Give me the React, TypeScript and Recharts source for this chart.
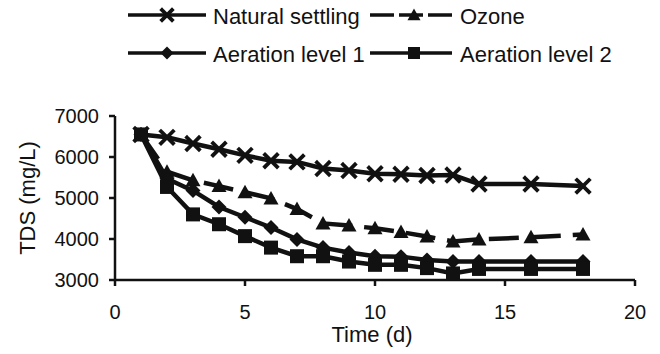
import { LineChart, Line, XAxis, YAxis, Legend } from "recharts";

const DAYS = [1, 2, 3, 4, 5, 6, 7, 8, 9, 10, 11, 12, 13, 14, 16, 18];
const NATURAL = [6550, 6480, 6330, 6190, 6040, 5910, 5880, 5720, 5670, 5590, 5580, 5550, 5560, 5340, 5340, 5290];
const OZONE = [6550, 5640, 5430, 5290, 5140, 4990, 4730, 4380, 4330, 4260, 4170, 4060, 3940, 3990, 4040, 4110];
const AERATION_1 = [6550, 5470, 5180, 4780, 4530, 4280, 3990, 3790, 3670, 3580, 3570, 3490, 3450, 3450, 3450, 3450];
const AERATION_2 = [6550, 5270, 4600, 4360, 4070, 3790, 3580, 3580, 3450, 3370, 3370, 3290, 3160, 3270, 3270, 3270];
const X_TICKS = [0, 5, 10, 15, 20];
const Y_TICKS = [3000, 4000, 5000, 6000, 7000];

const INK = "#111";
const FONT = '"Liberation Sans", Arial, sans-serif';

const data = DAYS.map((day, i) => ({
    day,
    natural: NATURAL[i],
    ozone: OZONE[i],
    aer1: AERATION_1[i],
    aer2: AERATION_2[i],
}));

type Shape = "cross" | "triangle" | "diamond" | "square";

// series config; legend row/col say where the entry sits in the 2x2 legend
const SERIES: { key: string; name: string; shape: Shape; dash?: string; row: number; col: number }[] = [
    { key: "natural", name: "Natural settling", shape: "cross", row: 0, col: 0 },
    { key: "ozone", name: "Ozone", shape: "triangle", dash: "30 12", row: 0, col: 1 },
    { key: "aer1", name: "Aeration level 1", shape: "diamond", row: 1, col: 0 },
    { key: "aer2", name: "Aeration level 2", shape: "square", row: 1, col: 1 },
];

function Marker({ cx, cy, shape, s = 7.5 }: { cx: number; cy: number; shape: Shape; s?: number }) {
    if (cx == null || cy == null) return null;
    switch (shape) {
        case "cross":
            return (
                <g stroke={INK} strokeWidth={3.8} strokeLinecap="square">
                    <line x1={cx - s + 1.5} y1={cy - s + 1.5} x2={cx + s - 1.5} y2={cy + s - 1.5} />
                    <line x1={cx - s + 1.5} y1={cy + s - 1.5} x2={cx + s - 1.5} y2={cy - s + 1.5} />
                </g>
            );
        case "triangle":
            return <polygon points={`${cx},${cy - s} ${cx + s},${cy + s * 0.8} ${cx - s},${cy + s * 0.8}`} fill={INK} />;
        case "diamond":
            return <polygon points={`${cx},${cy - s} ${cx + s},${cy} ${cx},${cy + s} ${cx - s},${cy}`} fill={INK} />;
        default:
            return <rect x={cx - s + 0.5} y={cy - s + 0.5} width={2 * s - 1} height={2 * s - 1} fill={INK} />;
    }
}

const makeDot = (shape: Shape) => (p: any) => <Marker key={`${shape}-${p.index}`} cx={p.cx} cy={p.cy} shape={shape} />;

// legend layout (pixels in the chart box)
const LEG_ROW_Y = [15, 53];
const LEG_LINE = [[128, 206], [370, 452]];
const LEG_MARK = [167, 414];
const LEG_TEXT = [213, 460];

function renderLegend() {
    return (
        <svg width={660} height={75} style={{ position: "absolute", top: 0, left: 0, overflow: "visible" }}>
            {SERIES.map((s) => {
                const y = LEG_ROW_Y[s.row];
                const [x1, x2] = LEG_LINE[s.col];
                return (
                    <g key={s.key}>
                        <line x1={x1} y1={y} x2={x2} y2={y} stroke={INK} strokeWidth={3.5}
                              strokeDasharray={s.dash ? "24 5" : undefined} />
                        <Marker cx={LEG_MARK[s.col]} cy={y} shape={s.shape} s={6.5} />
                        <text x={LEG_TEXT[s.col]} y={y + 9} fontSize={22} fill={INK} fontFamily={FONT}>{s.name}</text>
                    </g>
                );
            })}
        </svg>
    );
}

export default function App() {
    return (
        <div style={{ position: "absolute", top: 0, left: 0, width: 660, height: 354, background: "#fff", fontFamily: FONT }}>
            <LineChart width={660} height={354} data={data} margin={{ top: 116, right: 25, bottom: 0, left: 0 }}>
                <XAxis
                    dataKey="day"
                    type="number"
                    domain={[0, 20]}
                    ticks={X_TICKS}
                    interval={0}
                    height={74}
                    tickSize={6}
                    tickMargin={19}
                    stroke={INK}
                    strokeWidth={2.5}
                    tick={{ fill: INK, fontSize: 20, fontFamily: FONT }}
                    label={{ value: "Time (d)", position: "insideBottom", offset: 12, dx: -3, fill: INK, fontSize: 22, fontFamily: FONT }}
                />
                <YAxis
                    type="number"
                    domain={[3000, 7000]}
                    ticks={Y_TICKS}
                    interval={0}
                    width={115}
                    tickSize={6}
                    tickMargin={10}
                    stroke={INK}
                    strokeWidth={2.5}
                    tick={{ fill: INK, fontSize: 20, fontFamily: FONT }}
                    label={{ value: "TDS (mg/L)", angle: -90, position: "center", dx: -30, fill: INK, fontSize: 22, fontFamily: FONT }}
                />
                <Legend content={renderLegend} wrapperStyle={{ top: 0, left: 0, width: 660, height: 0 }} />
                {SERIES.map((s) => (
                    <Line
                        key={s.key}
                        dataKey={s.key}
                        name={s.name}
                        type="linear"
                        stroke={INK}
                        strokeWidth={4.5}
                        strokeDasharray={s.dash}
                        dot={makeDot(s.shape)}
                        activeDot={false}
                        isAnimationActive={false}
                    />
                ))}
            </LineChart>
        </div>
    );
}
